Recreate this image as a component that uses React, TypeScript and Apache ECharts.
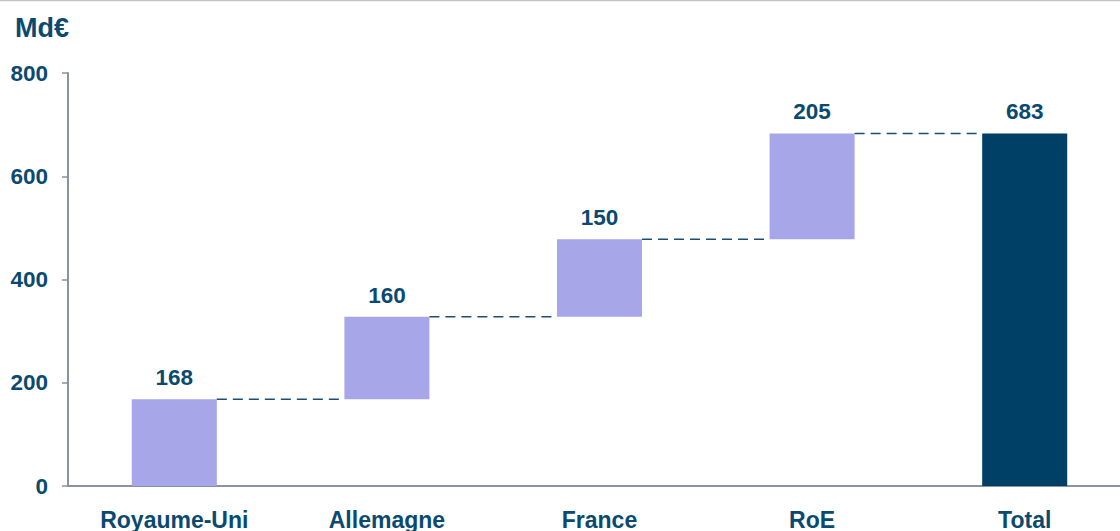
import React, { useEffect, useRef } from "react";
import * as echarts from "echarts";

const categories = ["Royaume-Uni", "Allemagne", "France", "RoE", "Total"];
const values = [168, 160, 150, 205, 683];
const bases = [0, 168, 328, 478, 0];
const connectors = [168, 328, 478, 683];
const yTicks = { min: 0, max: 800, interval: 200 };

const TEXT = "#0b4a70";
const AXIS = "#8a929e";
const BAR = "#a6a6e8";
const TOTAL = "#003f66";
const FONT = "'Liberation Sans', Arial, sans-serif";

export default function App() {
  const ref = useRef<HTMLDivElement>(null);
  useEffect(() => {
    document.body.style.margin = "0";
    const chart = echarts.init(ref.current!, undefined, { renderer: "svg" });
    const barRatio = 0.4;
    chart.setOption({
      animation: false,
      textStyle: { fontFamily: FONT },
      grid: { left: 68, top: 73, bottom: 45, right: 0 },
      graphic: [
        { type: "line", shape: { x1: 0, y1: 0.5, x2: 1131, y2: 0.5 }, style: { stroke: "#c4c4c4", lineWidth: 1.5 } },
        { type: "text", left: 15, top: 14, style: { text: "Md€", fill: TEXT, font: `bold 27px ${FONT}` } },
      ],
      xAxis: {
        type: "category",
        data: categories,
        boundaryGap: true,
        axisLine: { lineStyle: { color: AXIS, width: 2 } },
        axisTick: { length: 5, lineStyle: { color: AXIS, width: 1.5 } },
        axisLabel: { color: TEXT, fontWeight: "bold", fontSize: 23, fontFamily: FONT, margin: 22, interval: 0 },
        splitLine: { show: false },
      },
      yAxis: {
        type: "value",
        min: yTicks.min,
        max: yTicks.max,
        interval: yTicks.interval,
        axisLine: { show: true, lineStyle: { color: AXIS, width: 2 } },
        axisTick: { show: true, length: 6, lineStyle: { color: AXIS, width: 1.5 } },
        axisLabel: { color: TEXT, fontWeight: "bold", fontSize: 22.5, fontFamily: FONT, margin: 20 },
        splitLine: { show: false },
      },
      series: [
        {
          type: "bar",
          stack: "w",
          barWidth: "40%",
          data: bases,
          itemStyle: { color: "transparent" },
          silent: true,
        },
        {
          type: "bar",
          stack: "w",
          barWidth: "40%",
          data: values.map((v, i) => ({
            value: v,
            itemStyle: { color: i === values.length - 1 ? TOTAL : BAR },
          })),
          label: {
            show: true,
            position: "top",
            distance: 10,
            color: TEXT,
            fontWeight: "bold",
            fontSize: 22.5,
            fontFamily: FONT,
          },
        },
        {
          type: "custom",
          data: connectors.map((c, i) => [i, c]),
          renderItem: (params: any, api: any) => {
            const i = api.value(0);
            const v = api.value(1);
            const p1 = api.coord([i, v]);
            const p2 = api.coord([i + 1, v]);
            const bw = api.size([1, 0])[0] * barRatio;
            return {
              type: "line",
              shape: { x1: p1[0] + bw / 2, y1: p1[1], x2: p2[0] - bw / 2, y2: p2[1] },
              style: { stroke: "#1a4f72", lineWidth: 1.5, lineDash: [10, 6] },
            };
          },
          z: 3,
        },
      ],
    });
    return () => chart.dispose();
  }, []);
  return (
    <div style={{ width: 1120, height: 531, overflow: "hidden", position: "absolute", left: 0, top: 0 }}>
      <div ref={ref} style={{ width: 1131, height: 531 }} />
    </div>
  );
}
